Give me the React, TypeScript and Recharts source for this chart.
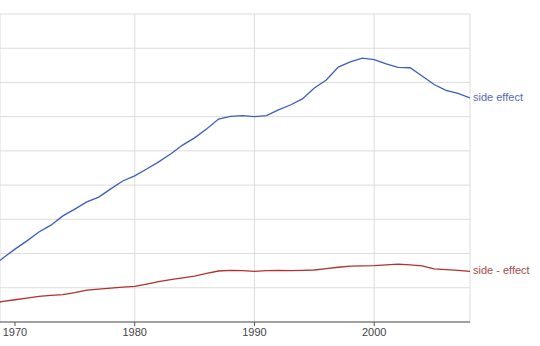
import React from "react";
import { LineChart, Line, XAxis, YAxis, CartesianGrid } from "recharts";

const years = [1968, 1969, 1970, 1971, 1972, 1973, 1974, 1975, 1976, 1977, 1978, 1979, 1980, 1981, 1982, 1983, 1984, 1985, 1986, 1987, 1988, 1989, 1990, 1991, 1992, 1993, 1994, 1995, 1996, 1997, 1998, 1999, 2000, 2001, 2002, 2003, 2004, 2005, 2006, 2007, 2008];

const sideEffect = [1.58, 1.87, 2.13, 2.37, 2.63, 2.83, 3.1, 3.3, 3.51, 3.65, 3.89, 4.12, 4.27, 4.47, 4.68, 4.91, 5.17, 5.38, 5.64, 5.93, 6.01, 6.03, 6.0, 6.03, 6.2, 6.34, 6.52, 6.84, 7.07, 7.45, 7.6, 7.71, 7.67, 7.54, 7.44, 7.43, 7.19, 6.94, 6.77, 6.68, 6.55];

const sideDashEffect = [0.54, 0.6, 0.65, 0.7, 0.75, 0.78, 0.8, 0.86, 0.93, 0.96, 0.99, 1.02, 1.04, 1.11, 1.18, 1.24, 1.29, 1.34, 1.42, 1.49, 1.51, 1.5, 1.48, 1.5, 1.51, 1.5, 1.51, 1.52, 1.56, 1.6, 1.63, 1.64, 1.65, 1.67, 1.69, 1.67, 1.64, 1.55, 1.53, 1.51, 1.48];

const xTicks = [1970, 1980, 1990, 2000];
const yTicks = [0, 1, 2, 3, 4, 5, 6, 7, 8, 9];
const seriesNames = ["side effect", "side - effect"];

const data = years.map((year, i) => ({
  year,
  a: sideEffect[i],
  b: sideDashEffect[i],
}));

const FONT = "'Liberation Sans', Arial, sans-serif";

const makeEndLabel = (name: string, color: string) => (props: any) => {
  const { x, y, index } = props;
  if (index !== data.length - 1) return null;
  return (
    <text
      x={x + 3}
      y={y - 1}
      fill={color}
      fontSize={11}
      fontFamily={FONT}
      dominantBaseline="central"
    >
      {name}
    </text>
  );
};

export default function App() {
  return (
    <div style={{ position: "absolute", left: 0, top: 0, background: "#fff" }}>
      <LineChart
        width={540}
        height={346}
        data={data}
        margin={{ top: 14, right: 70, left: 0, bottom: 0 }}
      >
        <CartesianGrid stroke="#dcdcdc" strokeWidth={1} />
        <XAxis
          dataKey="year"
          type="number"
          domain={[1968.75, 2008]}
          allowDataOverflow
          ticks={xTicks}
          height={24}
          tickSize={4}
          stroke="#555"
          tick={{ fill: "#444", fontSize: 11, fontFamily: FONT }}
        />
        <YAxis type="number" domain={[0, 9]} ticks={yTicks} hide />
        <Line
          dataKey="a"
          stroke="#3d5fb8"
          strokeWidth={1.3}
          dot={false}
          isAnimationActive={false}
          label={makeEndLabel(seriesNames[0], "#5468b4")}
        />
        <Line
          dataKey="b"
          stroke="#b3302e"
          strokeWidth={1.3}
          dot={false}
          isAnimationActive={false}
          label={makeEndLabel(seriesNames[1], "#a8474a")}
        />
      </LineChart>
    </div>
  );
}
